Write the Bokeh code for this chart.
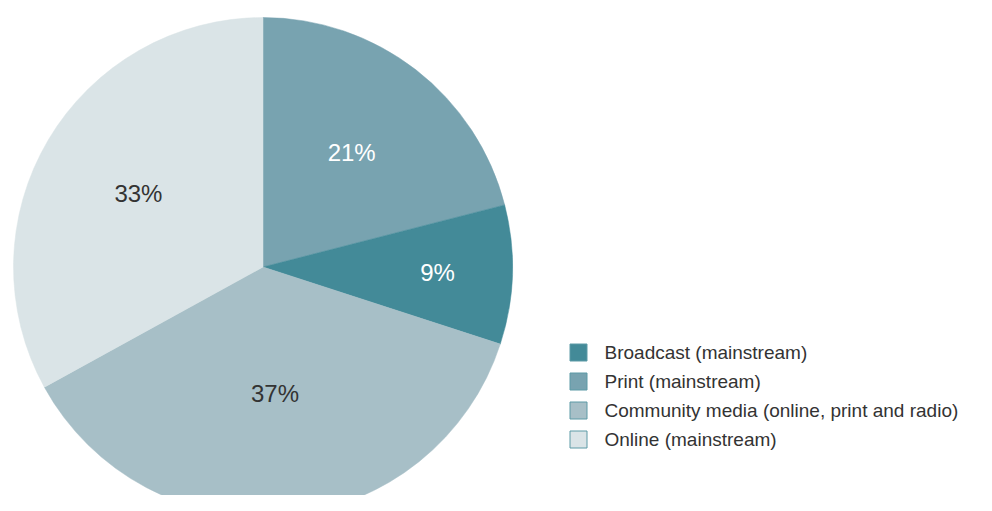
import math
from bokeh.plotting import figure
from bokeh.models import Range1d
from bokeh.core.properties import value
from bokeh.embed import file_html
from bokeh.resources import INLINE

# ---- data ----
categories = ["Broadcast (mainstream)", "Print (mainstream)",
              "Community media (online, print and radio)", "Online (mainstream)"]
shares = [9, 21, 37, 33]
colors = ["#438A98", "#78A3B0", "#A7BFC7", "#DAE4E7"]
label_colors = ["#ffffff", "#ffffff", "#333333", "#333333"]
# clockwise drawing order starting at 12 o'clock
pie_order = [1, 0, 2, 3]

# ---- layout (pixel-like data space; y = -screen_y) ----
W, H = 976, 495
cx, cy, r = 262.5, -266.5, 249.5

p = figure(width=W, height=H, output_backend="svg", toolbar_location=None,
           x_range=Range1d(0, W), y_range=Range1d(-H, 0),
           min_border=0)
p.axis.visible = False
p.grid.visible = False
p.outline_line_color = None
p.background_fill_color = "white"
p.border_fill_color = "white"

total = sum(shares)
start = math.pi / 2
starts, ends, wc, lx, ly, lt, ltc = [], [], [], [], [], [], []
for i in pie_order:
    sweep = shares[i] / total * 2 * math.pi
    end = start - sweep
    starts.append(start)
    ends.append(end)
    wc.append(colors[i])
    mid = (start + end) / 2
    if shares[i] < 10:
        frac = 0.70
    elif shares[i] > 35:
        frac = 0.51
    else:
        frac = 0.58
    lx.append(cx + frac * r * math.cos(mid))
    ly.append(cy + frac * r * math.sin(mid))
    lt.append(f"{shares[i]}%")
    ltc.append(label_colors[i])
    start = end

p.wedge(x=cx, y=cy, radius=r, start_angle=starts, end_angle=ends,
        direction="clock", fill_color=wc, line_color=wc, line_width=0.5)

p.text(x=lx, y=ly, text=lt, text_color=ltc, text_align="center",
       text_baseline="middle", text_font=value("Liberation Sans"),
       text_font_size="24px")

# ---- legend ----
lgx, lgy0, step, box = 578, -352, 29, 17
ys = [lgy0 - k * step for k in range(len(categories))]
p.rect(x=[lgx] * len(categories), y=ys, width=box, height=box,
       fill_color=colors, line_color="#5D9AA6", line_width=1)
p.text(x=[604] * len(categories), y=ys, text=categories, text_color="#333333",
       text_align="left", text_baseline="middle",
       text_font=value("Liberation Sans"), text_font_size="19px")

open("out.html", "w").write(file_html(p, INLINE))
